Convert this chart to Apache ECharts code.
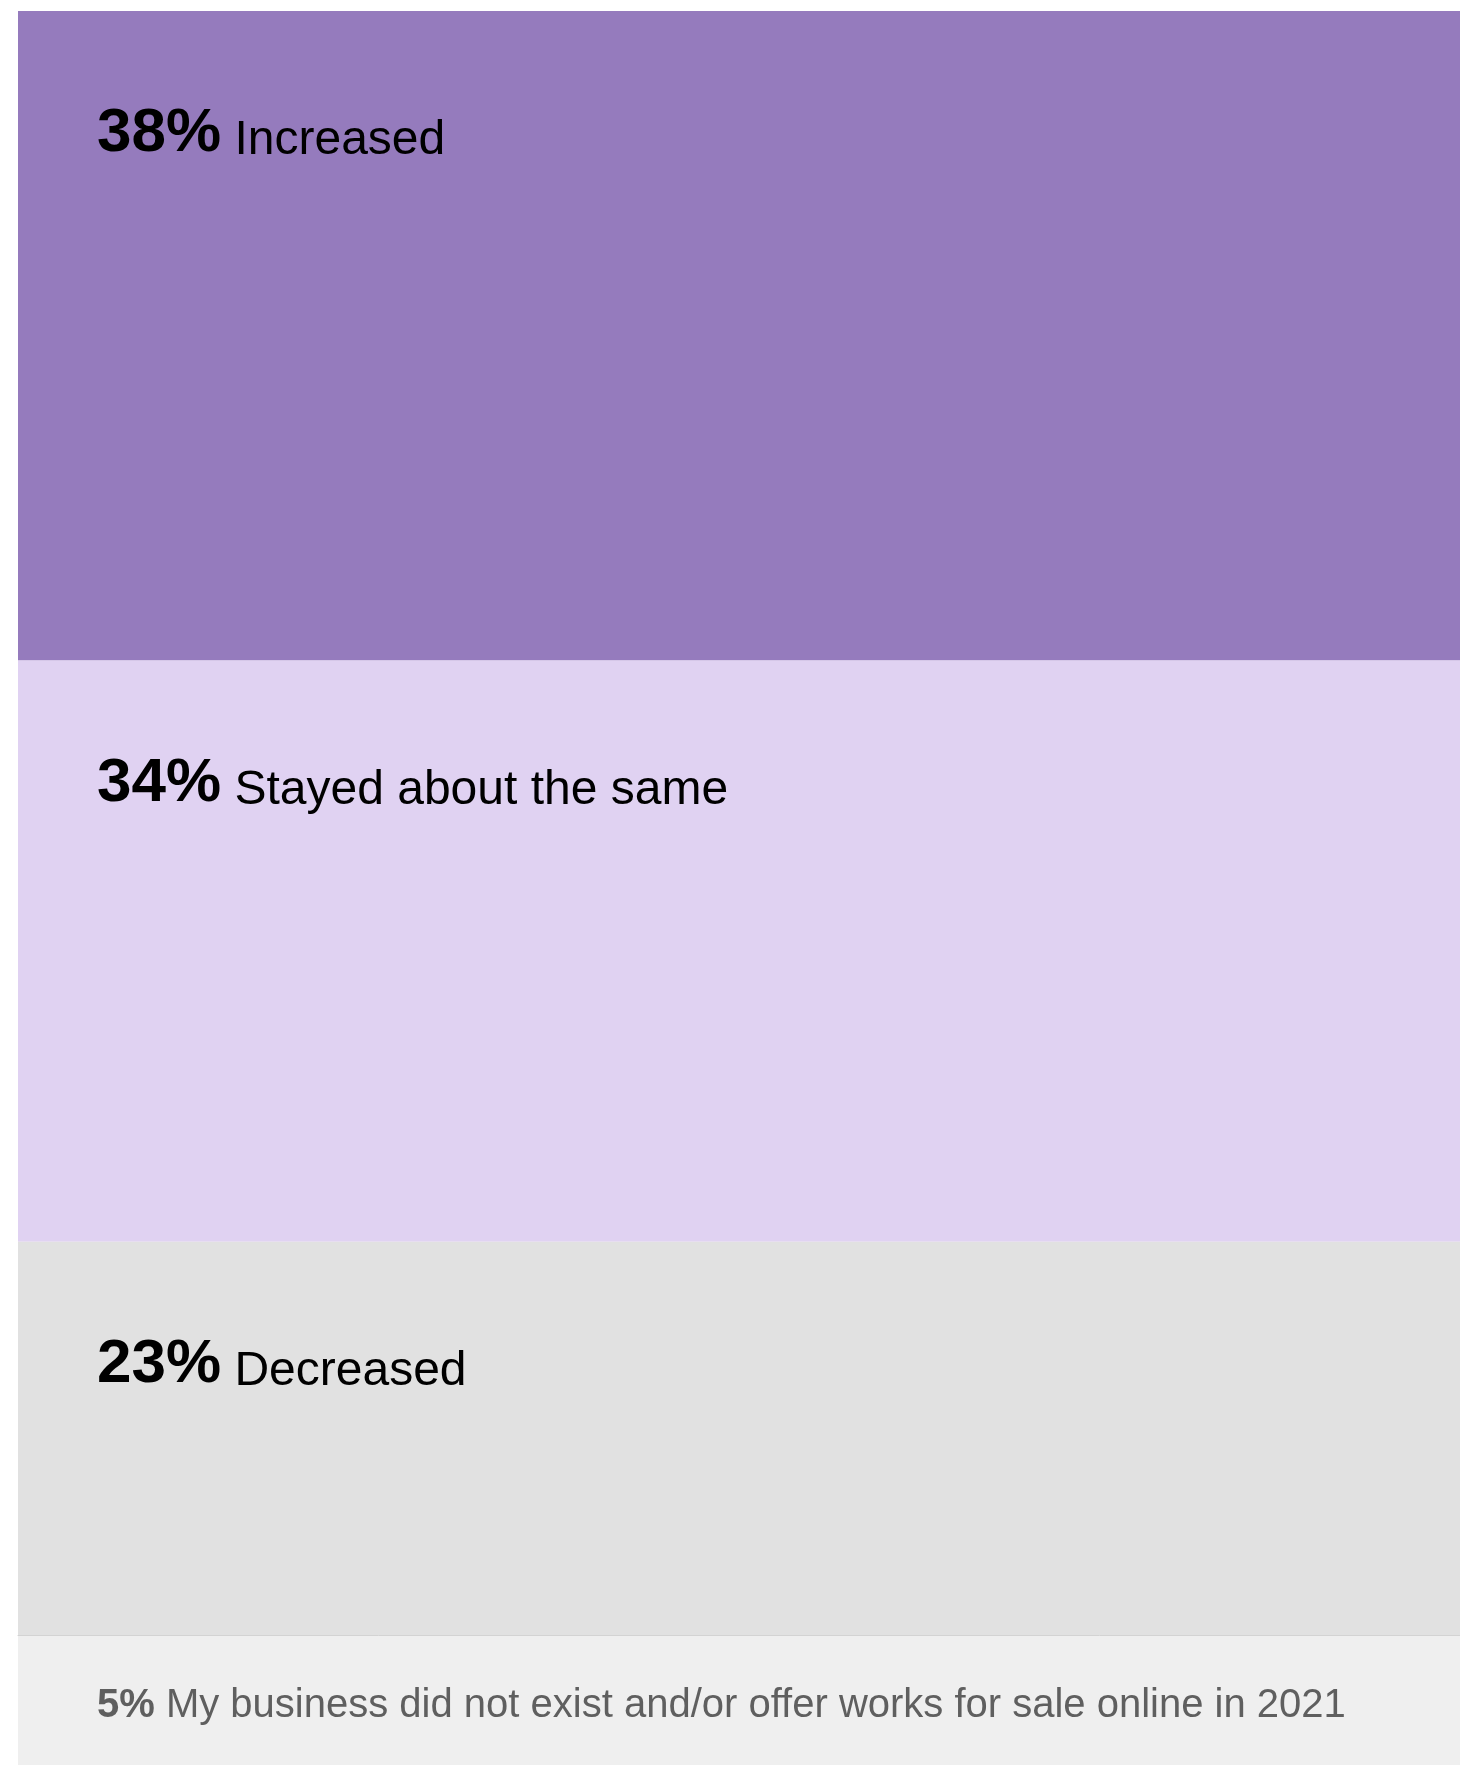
<!DOCTYPE html>
<html>
<head>
<meta charset="utf-8">
<script src="https://cdn.jsdelivr.net/npm/echarts@6/dist/echarts.min.js"></script>
<style>
html,body{margin:0;padding:0;background:#ffffff;}
#chart{width:1460px;height:1765px;}
</style>
</head>
<body>
<div id="chart"></div>
<script>
// Data
const categories = ['Increased', 'Stayed about the same', 'Decreased'];
const values = [38, 34, 23];
const footCategory = 'My business did not exist and/or offer works for sale online in 2021';
const footValue = 5;
const colors = ['#957bbd', '#e0d2f2', '#e1e1e1'];
const footColor = '#efefef';

const FONT = '"Liberation Sans", Arial, sans-serif';
const mainTotal = values.reduce((a, b) => a + b, 0);

const chart = echarts.init(document.getElementById('chart'), null, {renderer: 'canvas'});

const mainSeries = categories.map((name, i) => ({
  type: 'bar',
  name: name,
  stack: 'main',
  xAxisIndex: 0,
  yAxisIndex: 0,
  barWidth: '100%',
  data: [values[i]],
  itemStyle: {color: colors[i]},
  label: {
    show: true,
    position: [79, 92],
    formatter: () => '{v|' + values[i] + '%}{n| ' + name + '}',
    rich: {
      v: {fontFamily: FONT, fontSize: 62, fontWeight: 'bold', color: '#000', lineHeight: 62, verticalAlign: 'bottom'},
      n: {fontFamily: FONT, fontSize: 48, fontWeight: 'normal', color: '#000', lineHeight: 52, verticalAlign: 'bottom'}
    }
  }
}));

const footSeries = {
  type: 'bar',
  name: footCategory,
  xAxisIndex: 1,
  yAxisIndex: 1,
  barWidth: '100%',
  data: [footValue],
  itemStyle: {color: footColor},
  label: {
    show: true,
    position: [79, 51],
    formatter: () => '{v|' + footValue + '%}{n| ' + footCategory + '}',
    rich: {
      v: {fontFamily: FONT, fontSize: 40, fontWeight: 'bold', color: '#5f5f5f', lineHeight: 40},
      n: {fontFamily: FONT, fontSize: 40, fontWeight: 'normal', color: '#5f5f5f', lineHeight: 40}
    }
  }
};

chart.setOption({
  animation: false,
  backgroundColor: '#ffffff',
  grid: [
    {left: 18, right: 0, top: 11, height: 1624},
    {left: 18, right: 0, top: 1635, height: 130}
  ],
  xAxis: [
    {type: 'category', gridIndex: 0, data: ['all'], show: false},
    {type: 'category', gridIndex: 1, data: ['all'], position: 'top', z: 10,
     axisLine: {show: true, lineStyle: {color: '#d3d3d3', width: 1}},
     axisTick: {show: false}, axisLabel: {show: false}, splitLine: {show: false}}
  ],
  yAxis: [
    {type: 'value', gridIndex: 0, min: 0, max: mainTotal, inverse: true, show: false},
    {type: 'value', gridIndex: 1, min: 0, max: footValue, inverse: true, show: false}
  ],
  series: mainSeries.concat([footSeries])
});
</script>
</body>
</html>
